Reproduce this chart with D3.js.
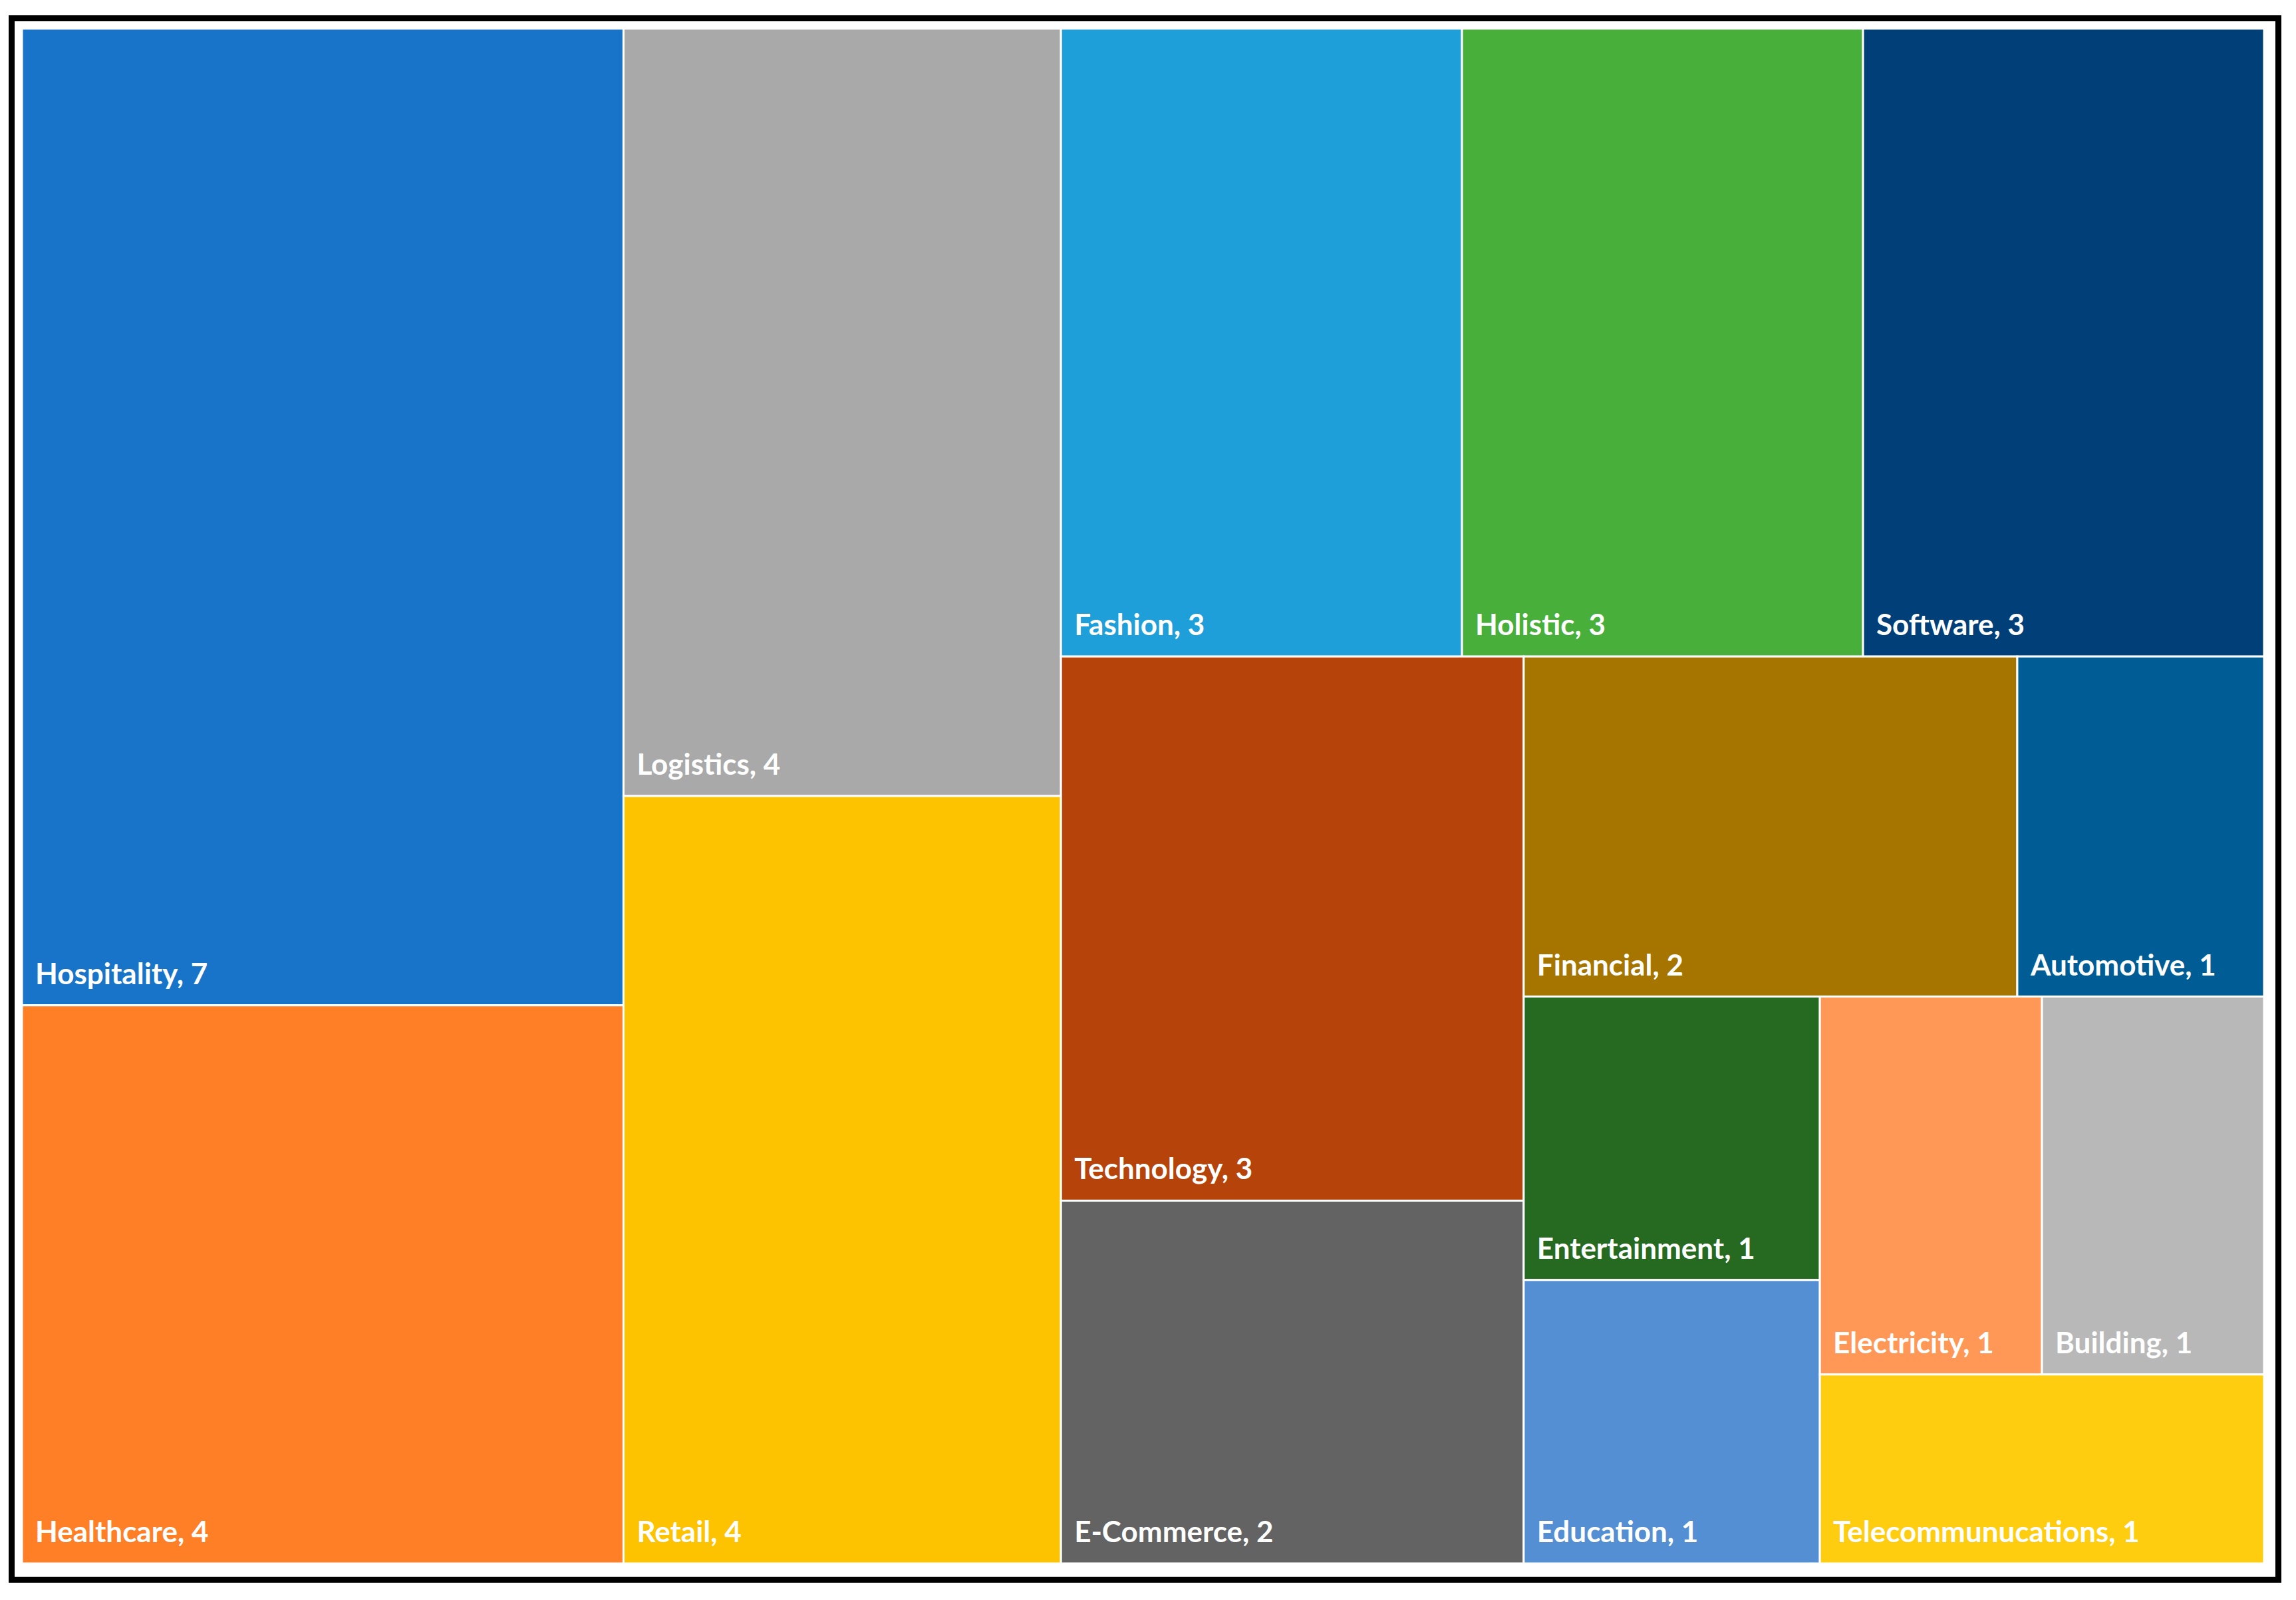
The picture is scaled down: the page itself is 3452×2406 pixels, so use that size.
<!DOCTYPE html>
<html>
<head>
<meta charset="utf-8">
<script src="https://cdn.jsdelivr.net/npm/d3@7"></script>
<style>
  body { margin: 0; background: #fff; }
  svg { display: block; }
</style>
</head>
<body>
<div id="main"></div>
<script>
var categories = ['Hospitality', 'Healthcare', 'Logistics', 'Retail', 'Fashion', 'Holistic', 'Software',
  'Technology', 'E-Commerce', 'Financial', 'Automotive', 'Entertainment', 'Education',
  'Electricity', 'Building', 'Telecommunucations'];
var counts = [7, 4, 4, 4, 3, 3, 3, 3, 2, 2, 1, 1, 1, 1, 1, 1];
var colors = ['#1874c9', '#ff7f27', '#a9a9a9', '#fdc200', '#1e9fd9', '#47af3a', '#003f78',
  '#b5430a', '#636363', '#a67500', '#005c94', '#266a22', '#548fd3',
  '#ff9757', '#b8b8b8', '#ffcd0f'];
// how many cells go in each strip, in order (the way Excel laid it out)
var stripSizes = [2, 2, 3, 2, 2, 2, 2, 1];

var W = 3452, H = 2406;
var box = { x0: 33, y0: 43, x1: 3404, y1: 2351 };

var svg = d3.select('#main').append('svg').attr('width', W).attr('height', H);

svg.append('rect')
  .attr('x', 17.5).attr('y', 27.5)
  .attr('width', 3408).attr('height', 2348)
  .attr('fill', 'none').attr('stroke', '#000').attr('stroke-width', 9);

// strip tiling: each strip runs along the shorter side of what is left
function stripTile(parent, x0, y0, x1, y1) {
  var nodes = parent.children, i = 0, left = parent.value;
  stripSizes.forEach(function(n) {
    var strip = nodes.slice(i, i + n);
    var v = d3.sum(strip, function(d) { return d.value; });
    var fake = { children: strip, value: v };
    if (x1 - x0 >= y1 - y0) {
      var xm = x0 + (x1 - x0) * v / left;
      d3.treemapSlice(fake, x0, y0, xm, y1);
      x0 = xm;
    } else {
      var ym = y0 + (y1 - y0) * v / left;
      d3.treemapDice(fake, x0, y0, x1, ym);
      y0 = ym;
    }
    left -= v;
    i += n;
  });
}

var data = { children: categories.map(function(c, i) { return { name: c, value: counts[i], color: colors[i] }; }) };
var root = d3.hierarchy(data).sum(function(d) { return d.value || 0; });

d3.treemap().tile(stripTile).size([box.x1 - box.x0, box.y1 - box.y0])(root);

var g = svg.append('g').attr('transform', 'translate(' + box.x0 + ',' + box.y0 + ')');
var cell = g.selectAll('g').data(root.leaves()).enter().append('g');

cell.append('rect')
  .attr('x', function(d) { return d.x0; })
  .attr('y', function(d) { return d.y0; })
  .attr('width', function(d) { return d.x1 - d.x0; })
  .attr('height', function(d) { return d.y1 - d.y0; })
  .attr('fill', function(d) { return d.data.color; })
  .attr('stroke', '#fff').attr('stroke-width', 3);

cell.append('text')
  .attr('x', function(d) { return d.x0 + 20; })
  .attr('y', function(d) { return d.y1 - 32; })
  .attr('fill', '#fff')
  .attr('font-family', 'Lato, "Open Sans", sans-serif')
  .attr('font-weight', 'bold')
  .attr('font-size', 44)
  .text(function(d) { return d.data.name + ', ' + d.data.value; });
</script>
</body>
</html>
